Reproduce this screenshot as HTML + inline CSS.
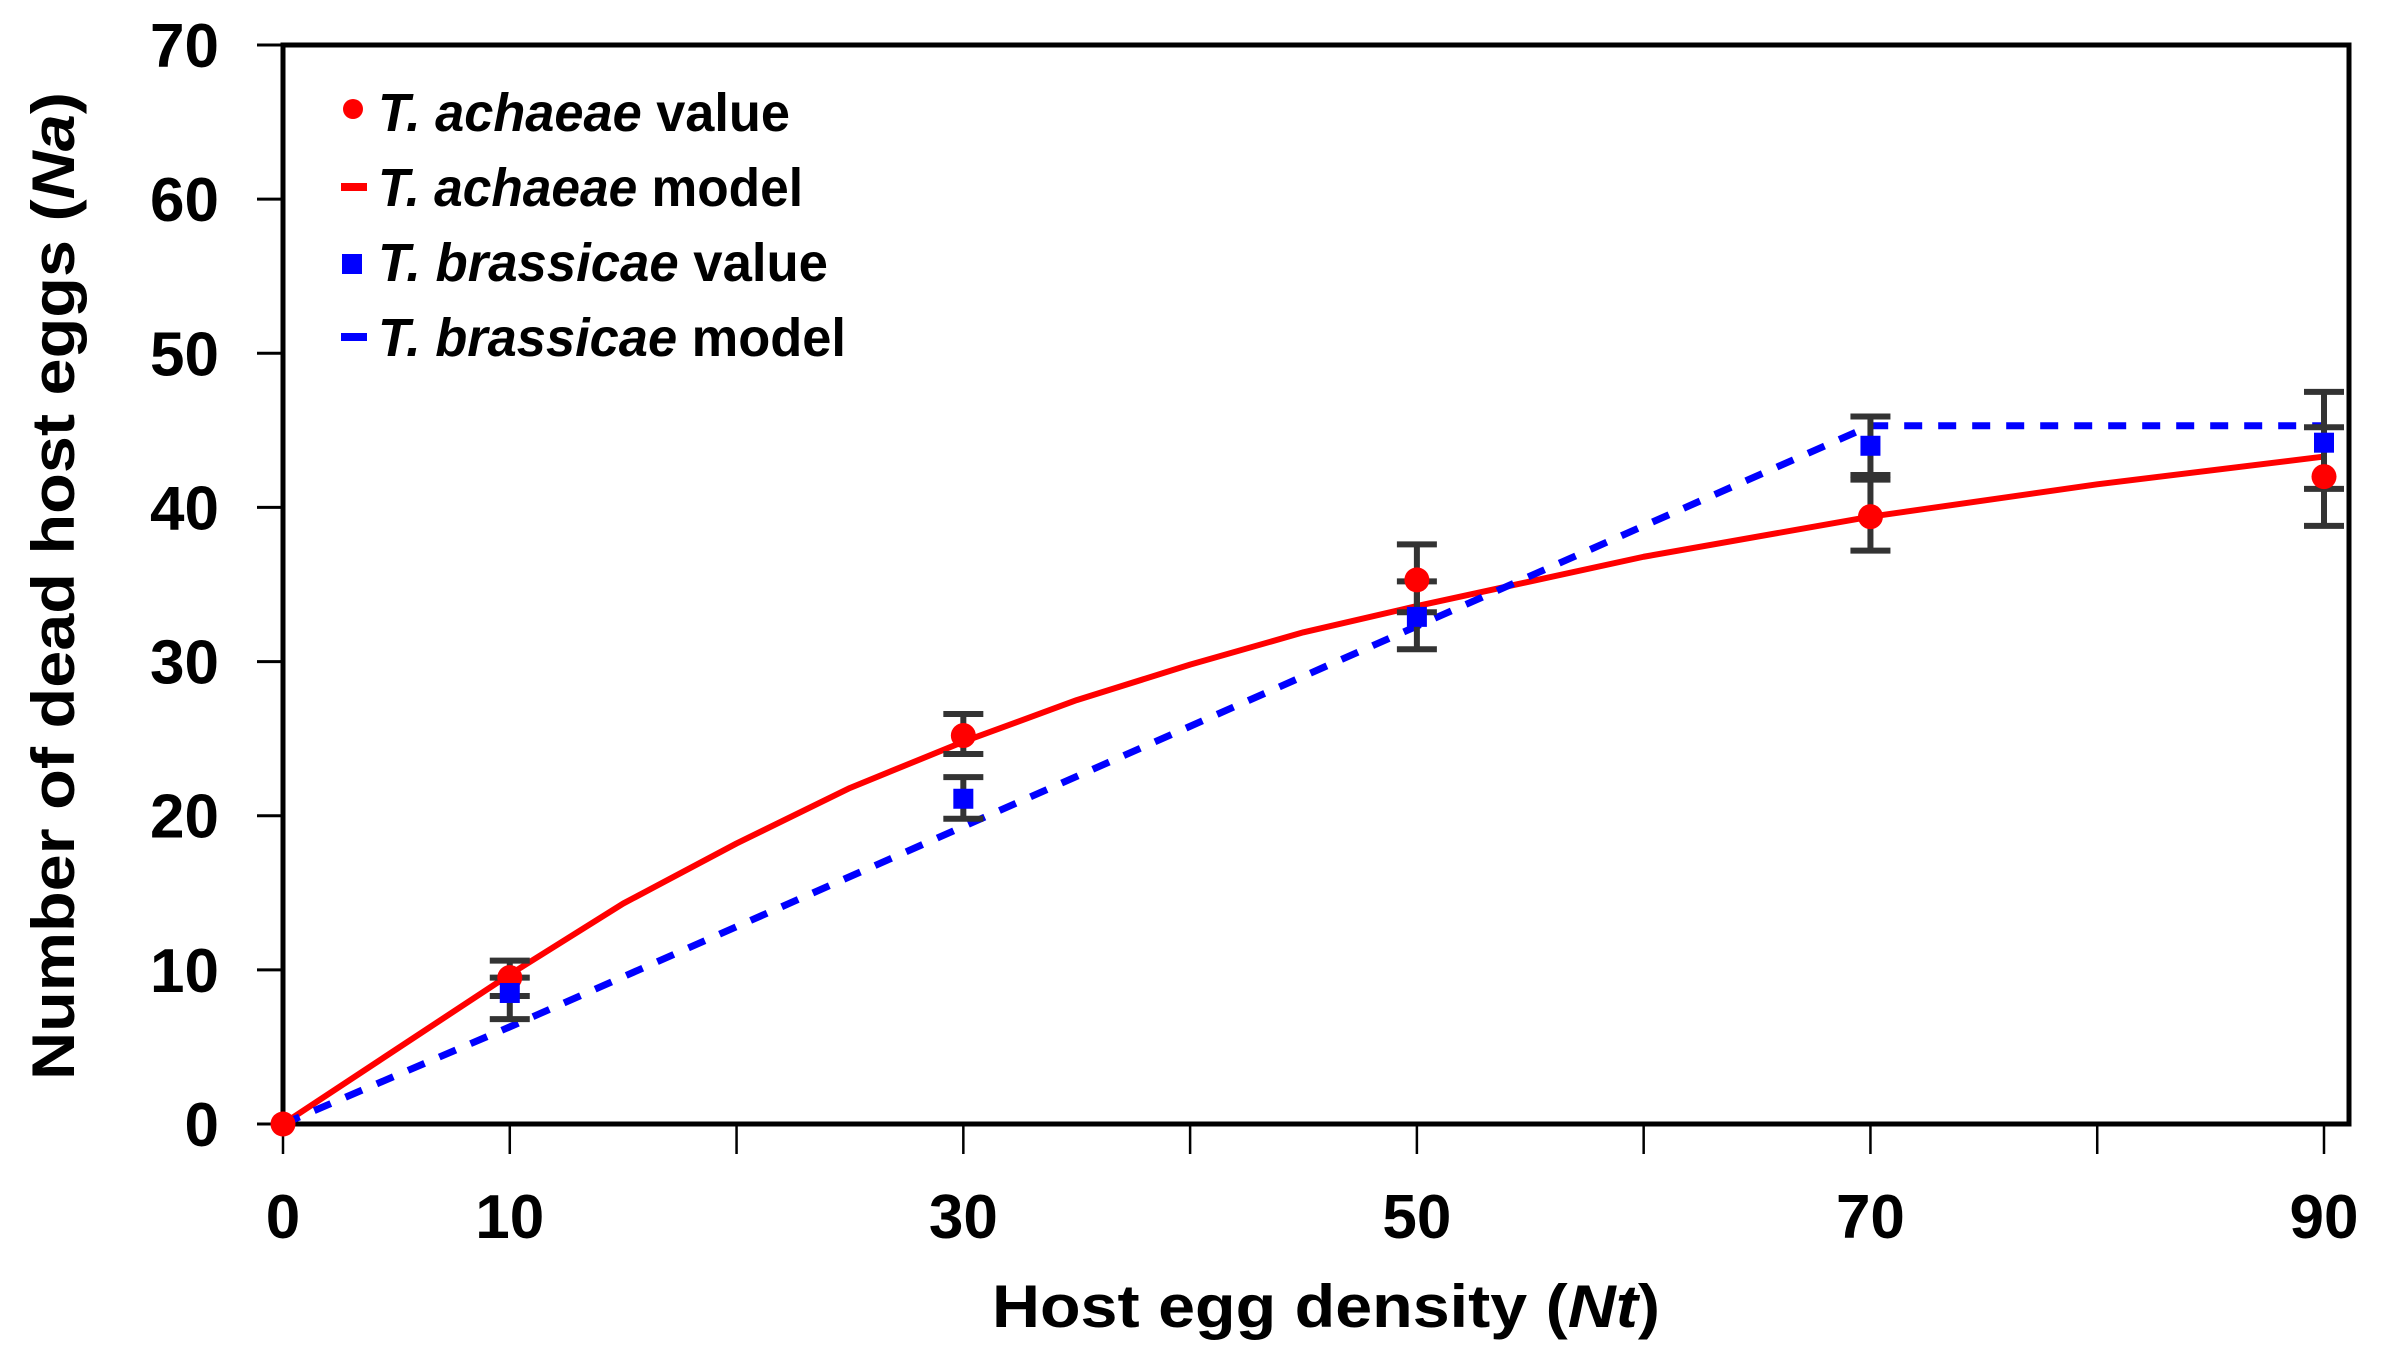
<!DOCTYPE html>
<html><head><meta charset="utf-8"><style>
html,body{margin:0;padding:0;background:#fff;}
svg{display:block;font-family:"Liberation Sans",Arial,sans-serif;font-weight:bold;}
</style></head><body>
<svg id="chart" width="2386" height="1355" viewBox="0 0 2386 1355" xmlns="http://www.w3.org/2000/svg">
<g id="axes"></g>
<g id="series"></g>
<g id="legend">
  <circle cx="353" cy="109" r="10" fill="#ff0000"/>
  <text x="378" y="131" font-size="54" textLength="412" lengthAdjust="spacingAndGlyphs"><tspan font-style="italic">T. achaeae</tspan> value</text>
  <rect x="341" y="183" width="26" height="8" fill="#ff0000"/>
  <text x="378" y="206" font-size="54" textLength="425" lengthAdjust="spacingAndGlyphs"><tspan font-style="italic">T. achaeae</tspan> model</text>
  <rect x="342" y="254" width="20" height="20" fill="#0000ff"/>
  <text x="378" y="281" font-size="54" textLength="450" lengthAdjust="spacingAndGlyphs"><tspan font-style="italic">T. brassicae</tspan> value</text>
  <rect x="341" y="333" width="26" height="8" fill="#0000ff"/>
  <text x="378" y="356" font-size="54" textLength="468" lengthAdjust="spacingAndGlyphs"><tspan font-style="italic">T. brassicae</tspan> model</text>
</g>
<text x="1326" y="1327" font-size="60" text-anchor="middle" textLength="668" lengthAdjust="spacingAndGlyphs">Host egg density (<tspan font-style="italic">Nt</tspan>)</text>
<text transform="translate(74,586) rotate(-90)" font-size="60" text-anchor="middle" textLength="988" lengthAdjust="spacingAndGlyphs">Number of dead host eggs (<tspan font-style="italic">Na</tspan>)</text>
</svg>
<script>
const xTicks = [0,10,20,30,40,50,60,70,80,90];
const xTickLabels = ["0","10","","30","","50","","70","","90"];
const yTicks = [0,10,20,30,40,50,60,70];
const obsX = [0,10,30,50,70,90];
const achaeaeVal = [0,9.5,25.2,35.3,39.4,42.0];
const achaeaeLo = [0,8.3,24.0,33.2,37.2,38.8];
const achaeaeHi = [0,10.6,26.6,37.6,41.8,45.2];
const brassicaeVal = [0,8.5,21.1,32.9,44.0,44.2];
const brassicaeLo = [0,6.8,19.8,30.8,42.1,41.2];
const brassicaeHi = [0,9.5,22.5,35.2,45.9,47.5];
const modelX = [0,10,15,20,25,30,35,40,45,50,55,60,70,80,90];
const achaeaeModel = [0,9.7,14.3,18.2,21.8,24.8,27.5,29.8,31.9,33.6,35.2,36.8,39.4,41.5,43.3];
const brassicaeModelX = [0,10,30,50,70,90];
const brassicaeModel = [0,6.3,19.3,32.3,45.3,45.3];

const NS="http://www.w3.org/2000/svg";
const X0=283, X1=2324, Y0=1124, Y1=45;
const sx = v => X0 + (X1-X0)*v/90;
const sy = v => Y0 - (Y0-Y1)*v/70;
function mk(tag, attrs, parent){const e=document.createElementNS(NS,tag);for(const k in attrs)e.setAttribute(k,attrs[k]);parent.appendChild(e);return e;}
const axes=document.getElementById('axes'), series=document.getElementById('series');

const frame=mk('rect',{x:X0,y:Y1,width:2349-X0,height:Y0-Y1,fill:'none',stroke:'#000','stroke-width':5},axes);


yTicks.forEach(t=>{
  const l=mk('line',{x1:X0-26,x2:X0,y1:sy(t),y2:sy(t),stroke:'#000','stroke-width':3},axes);
  
  
  const tx=mk('text',{x:X0-64,y:sy(t)+22,'font-size':62,'text-anchor':'end'},axes);
  
  
  tx.textContent=t;
});
xTicks.forEach((t,i)=>{
  const l=mk('line',{x1:sx(t),x2:sx(t),y1:Y0,y2:Y0+30,stroke:'#000','stroke-width':2.5},axes);
  
  
  if(xTickLabels[i]){
    const tx=mk('text',{x:sx(t),y:Y0+114,'font-size':62,'text-anchor':'middle'},axes);
    
    
    tx.textContent=xTickLabels[i];
  }
});

const rl=mk('polyline',{points:modelX.map((x,i)=>sx(x)+','+sy(achaeaeModel[i])).join(' '),fill:'none',stroke:'#ff0000','stroke-width':6,'stroke-linejoin':'round'},series);


const bl=mk('polyline',{points:brassicaeModelX.map((x,i)=>sx(x)+','+sy(brassicaeModel[i])).join(' '),fill:'none',stroke:'#0000ff','stroke-width':7,'stroke-dasharray':'18 16'},series);



function errbar(x,lo,hi,name){
  if(hi-lo<=0) return;
  const g=mk('g',{stroke:'#333','stroke-width':6},series);
  
  
  mk('line',{x1:sx(x),x2:sx(x),y1:sy(lo),y2:sy(hi)},g);
  mk('line',{x1:sx(x)-20,x2:sx(x)+20,y1:sy(lo),y2:sy(lo)},g);
  mk('line',{x1:sx(x)-20,x2:sx(x)+20,y1:sy(hi),y2:sy(hi)},g);
}
obsX.forEach((x,i)=>{
  errbar(x,achaeaeLo[i],achaeaeHi[i],'achaeae-error-bar');
  errbar(x,brassicaeLo[i],brassicaeHi[i],'brassicae-error-bar');
});
obsX.forEach((x,i)=>{
  const c=mk('circle',{cx:sx(x),cy:sy(achaeaeVal[i]),r:12.5,fill:'#ff0000'},series);
  
  
  if(i>0){
    const r=mk('rect',{x:sx(x)-10,y:sy(brassicaeVal[i])-10,width:20,height:20,fill:'#0000ff'},series);
    
    
  }
});
</script>
</body></html>
